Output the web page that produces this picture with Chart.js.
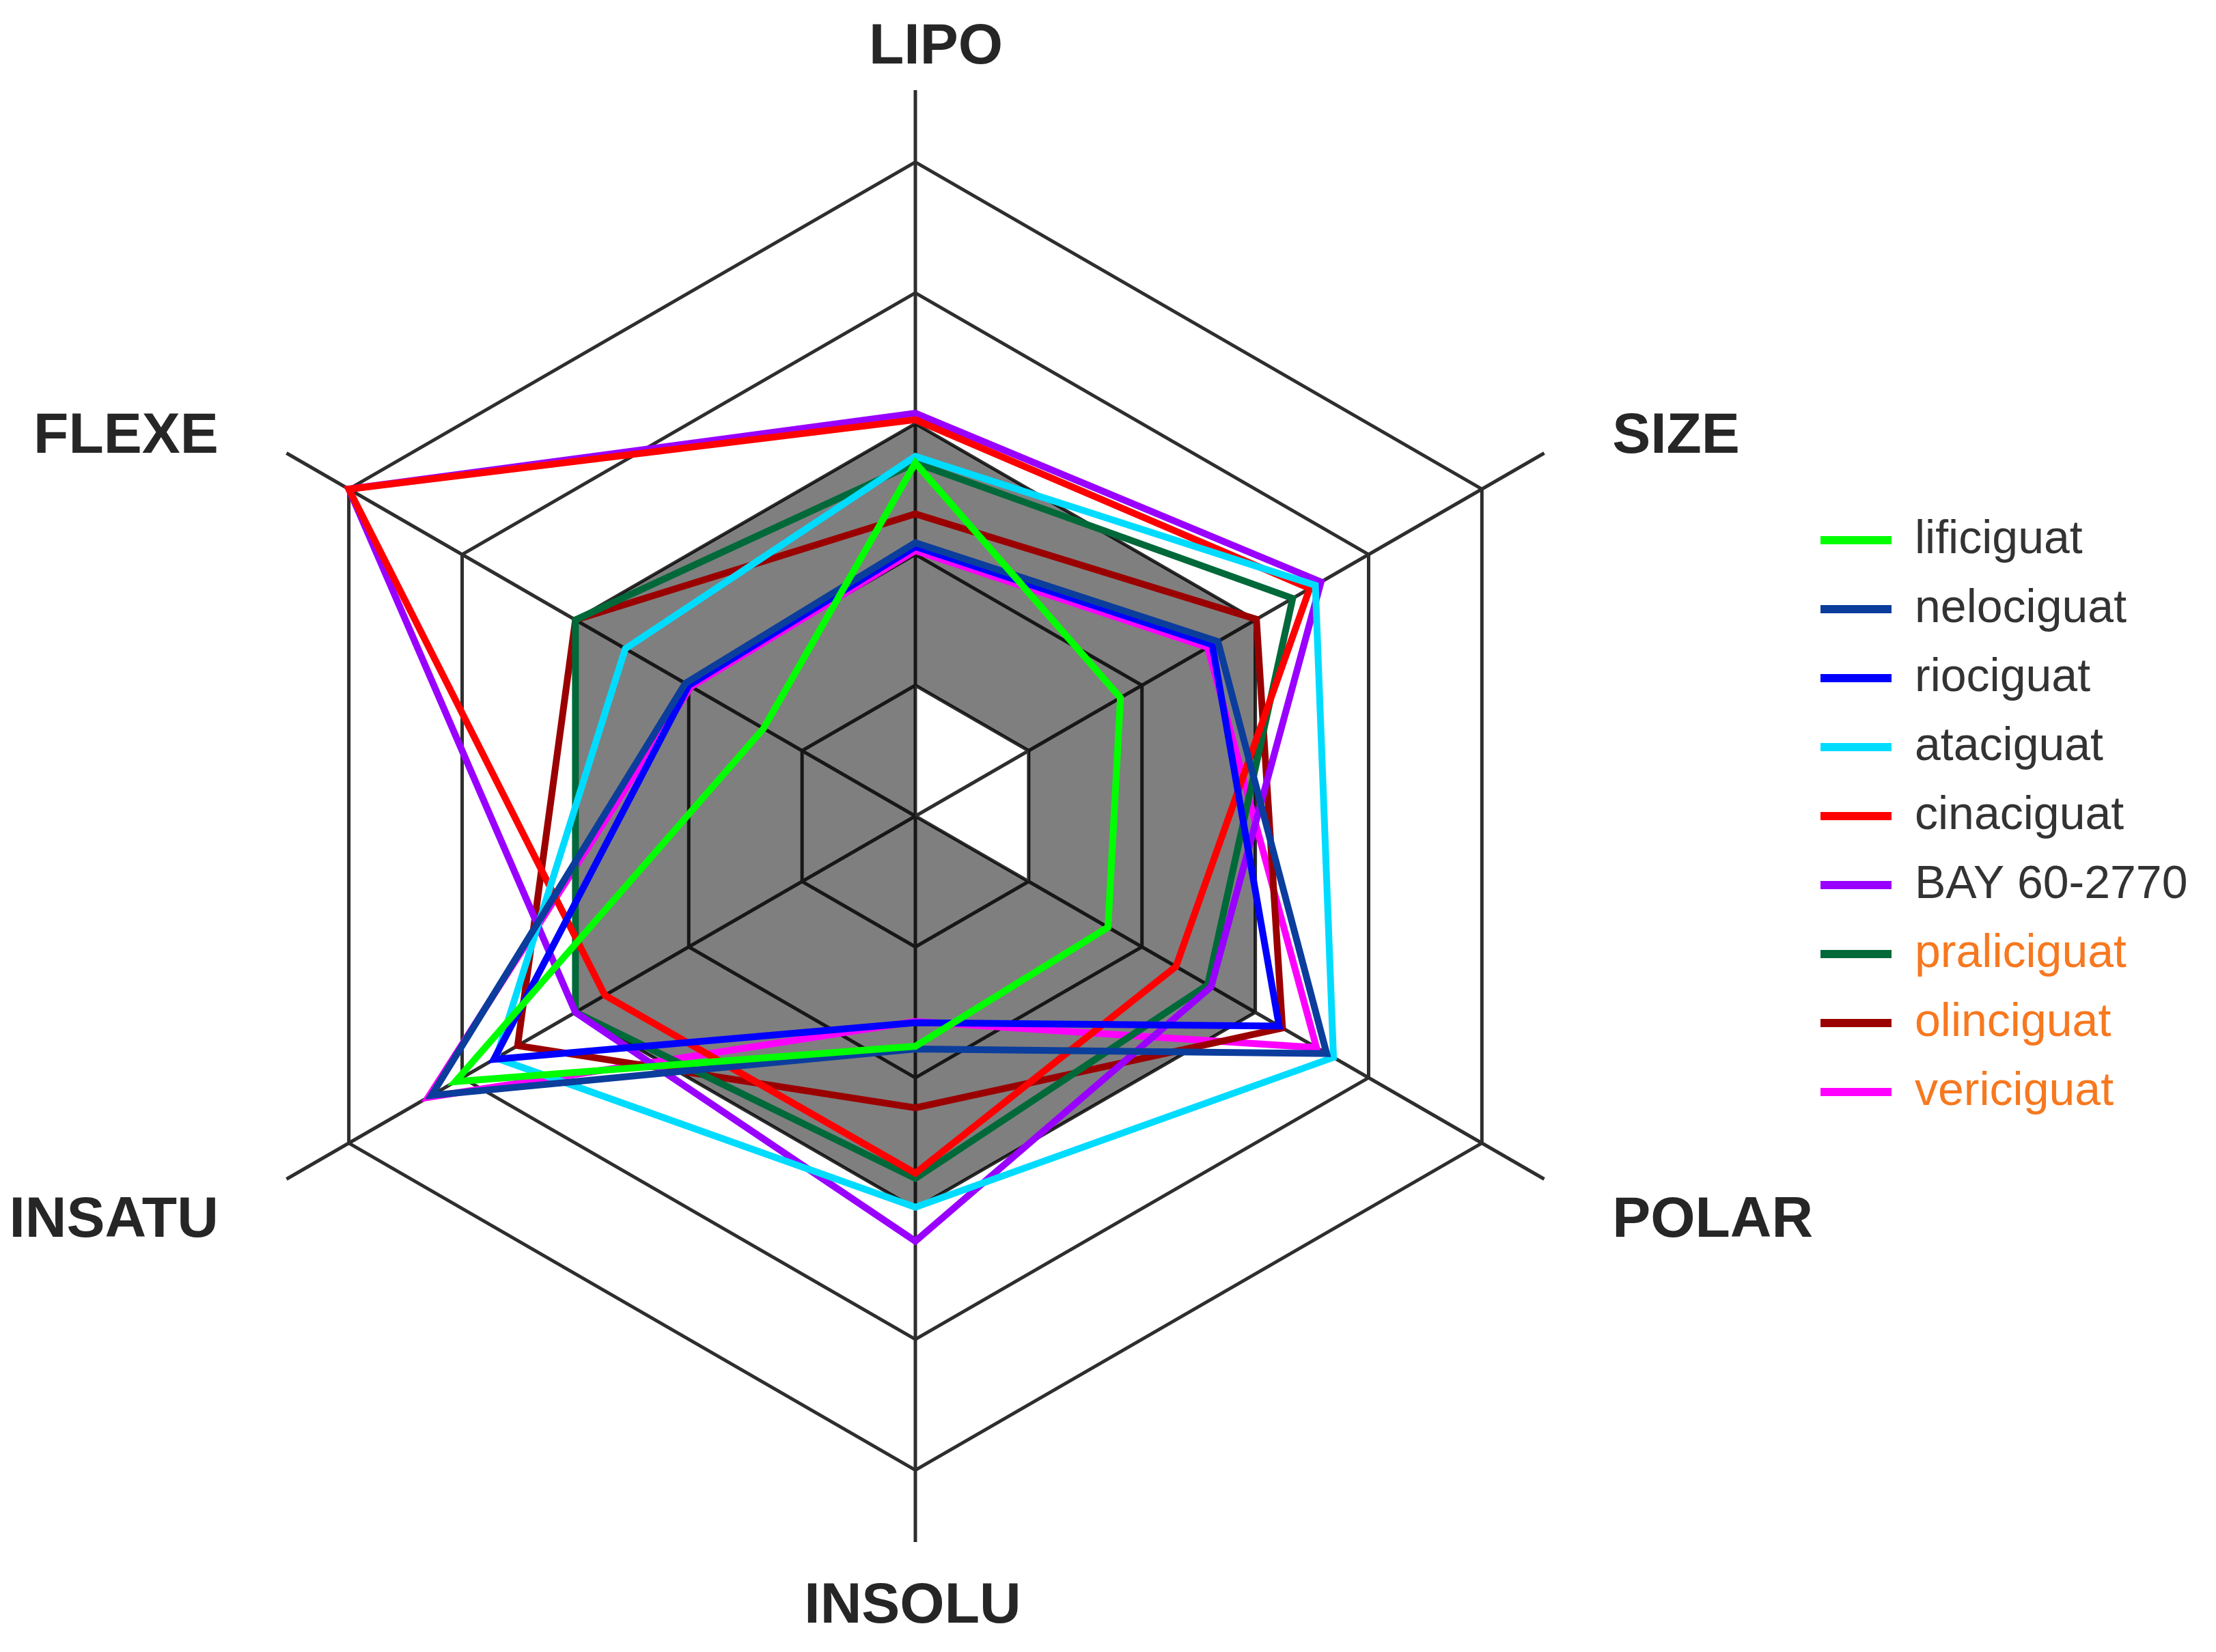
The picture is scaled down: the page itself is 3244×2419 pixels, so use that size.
<!DOCTYPE html>
<html>
<head>
<meta charset="utf-8">
<script src="https://cdn.jsdelivr.net/npm/chart.js@4.4.1/dist/chart.umd.min.js"></script>
<style>
  html, body { margin: 0; padding: 0; background: #fff; }
  canvas { display: block; }
</style>
</head>
<body>
<canvas id="myChart" width="3244" height="2419"></canvas>
<script>
// axes of the radar, clockwise from the top
var axes = ['LIPO', 'SIZE', 'POLAR', 'INSOLU', 'INSATU', 'FLEXE'];

// one value per axis, in grid rings (0 = centre, 5 = outer ring)
var lificiguat  = [2.70, 1.81, 1.70, 1.76, 4.06, 1.34];
var nelociguat  = [2.09, 2.67, 3.63, 1.78, 4.27, 2.03];
var riociguat   = [2.06, 2.62, 3.21, 1.58, 3.72, 2.00];
var ataciguat   = [2.75, 3.53, 3.69, 2.99, 3.70, 2.56];
var cinaciguat  = [3.03, 3.48, 2.30, 2.73, 2.74, 5.00];
var bay602770   = [3.08, 3.58, 2.61, 3.25, 3.00, 5.00];
var praliciguat = [2.70, 3.33, 2.58, 2.77, 3.00, 3.00];
var olinciguat  = [2.31, 3.01, 3.24, 2.23, 3.51, 3.00];
var vericiguat  = [2.03, 2.58, 3.54, 1.57, 4.30, 1.98];

// grey band (optimal range)
var optimalUpper = [3, 3, 3, 3, 3, 3];
var optimalLower = [1, 1, 1, 0, 0, 0];

var names  = ['lificiguat', 'nelociguat', 'riociguat', 'ataciguat', 'cinaciguat',
              'BAY 60-2770', 'praliciguat', 'olinciguat', 'vericiguat'];
var series = [lificiguat, nelociguat, riociguat, ataciguat, cinaciguat,
              bay602770, praliciguat, olinciguat, vericiguat];
var colors = ['#00ff00', '#0b3d9c', '#0000ff', '#00dcff', '#ff0000',
              '#9900ff', '#00693a', '#9b0000', '#ff00ff'];
var orangeNames = ['praliciguat', 'olinciguat', 'vericiguat'];

var datasets = series.map(function(values, i) {
    return {
        label: names[i],
        data: values,
        borderColor: colors[i],
        backgroundColor: colors[i],
        borderWidth: 10,
        borderJoinStyle: 'miter',
        pointRadius: 0,
        fill: false
    };
});
// grey area: between upper and lower polygons
datasets.push({
    label: 'upper',
    data: optimalUpper,
    borderWidth: 0,
    borderColor: 'rgba(0,0,0,0)',
    backgroundColor: 'rgba(0,0,0,0.5)',
    pointRadius: 0,
    fill: '+1'
});
datasets.push({
    label: 'lower',
    data: optimalLower,
    borderWidth: 0,
    borderColor: 'rgba(0,0,0,0)',
    pointRadius: 0,
    fill: false
});

// axis names, drawn next to the end of each spoke
var axisLabels = {
    id: 'axisLabels',
    afterDraw: function(chart) {
        var scale = chart.scales.r;
        var ctx = chart.ctx;
        ctx.save();
        ctx.font = 'bold 84px "Liberation Sans", Arial, sans-serif';
        ctx.fillStyle = '#262626';
        axes.forEach(function(label, i) {
            var side = (i % 3 !== 0);
            var p = scale.getPointPosition(i, scale.drawingArea + (side ? 115 : 39));
            if (i === 0) {
                ctx.textAlign = 'center';
                ctx.textBaseline = 'alphabetic';
                ctx.fillText(label, p.x + 30, p.y);
            } else if (i === 3) {
                ctx.textAlign = 'center';
                ctx.textBaseline = 'top';
                ctx.fillText(label, p.x - 4, p.y + 14);
            } else {
                ctx.textAlign = (i < 3) ? 'left' : 'right';
                ctx.textBaseline = 'middle';
                var dy = (i === 1 || i === 5) ? 34 : 4;
                ctx.fillText(label, p.x, p.y + dy);
            }
        });
        ctx.restore();
    }
};

var ctx = document.getElementById('myChart').getContext('2d');
var chart = new Chart(ctx, {
    type: 'radar',
    data: {
        labels: axes,
        datasets: datasets
    },
    plugins: [axisLabels],
    options: {
        responsive: false,
        animation: false,
        devicePixelRatio: 1,
        layout: {
            padding: { left: 48, right: 32, top: 132, bottom: 161 }
        },
        elements: {
            line: { tension: 0 }
        },
        scales: {
            r: {
                min: 0,
                max: 5.55,
                beginAtZero: true,
                ticks: { display: false, stepSize: 1 },
                afterBuildTicks: function(scale) {
                    scale.ticks = scale.ticks.filter(function(t) { return t.value <= 5; });
                },
                grid: { color: '#2e2e2e', lineWidth: 5 },
                angleLines: { color: '#2e2e2e', lineWidth: 5 },
                pointLabels: { display: false }
            }
        },
        plugins: {
            tooltip: { enabled: false },
            legend: {
                position: 'right',
                align: 'center',
                maxWidth: 580,
                labels: {
                    boxWidth: 104,
                    boxHeight: 12,
                    padding: 33,
                    font: { family: '"Liberation Sans", Arial, sans-serif', size: 68 },
                    generateLabels: function(chart) {
                        return names.map(function(name, i) {
                            return {
                                text: name,
                                fillStyle: colors[i],
                                strokeStyle: colors[i],
                                lineWidth: 0,
                                fontColor: orangeNames.indexOf(name) >= 0 ? '#f7781f' : '#333333',
                                hidden: false,
                                datasetIndex: i
                            };
                        });
                    }
                }
            }
        }
    }
});
</script>
</body>
</html>
